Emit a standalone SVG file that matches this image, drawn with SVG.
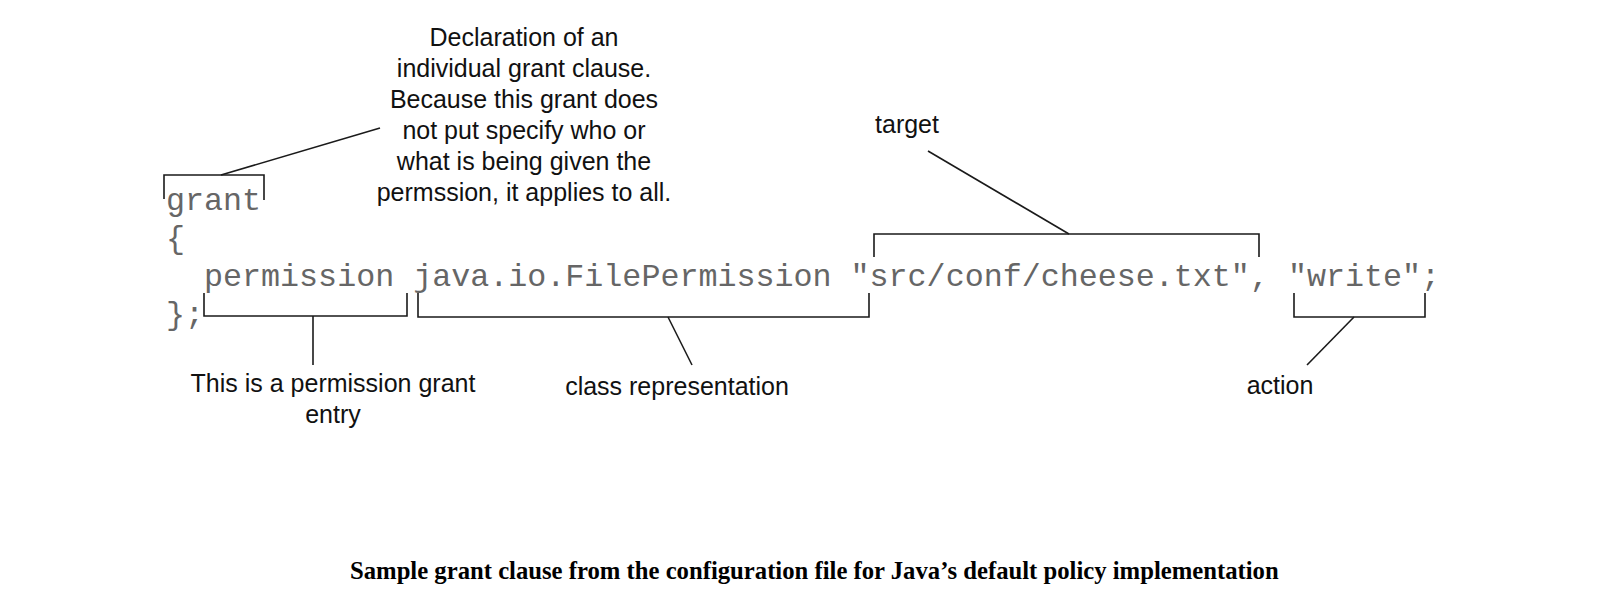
<svg xmlns="http://www.w3.org/2000/svg" width="1608" height="594" viewBox="0 0 1608 594">
<style>
.code{font-family:"Liberation Mono","Courier New",monospace;font-size:31.7px;fill:#666;white-space:pre}
.lbl{font-family:"Liberation Sans",Arial,sans-serif;font-size:25px;fill:#111;text-anchor:middle}
.cap{font-family:"Liberation Serif","Times New Roman",serif;font-size:24.7px;font-weight:bold;fill:#000}
.br{fill:none;stroke:#1a1a1a;stroke-width:1.6}
</style>
<rect width="1608" height="594" fill="#fff"/>
<g id="code">
<text class="code" x="166" y="210">grant</text>
<text class="code" x="166" y="248">{</text>
<text class="code" x="166" y="286" xml:space="preserve">  permission java.io.FilePermission "src/conf/cheese.txt", "write";</text>
<text class="code" x="166" y="324">};</text>
</g>
<g id="declaration-note">
<text class="lbl" x="524" y="46">Declaration of an</text>
<text class="lbl" x="524" y="77">individual grant clause.</text>
<text class="lbl" x="524" y="108">Because this grant does</text>
<text class="lbl" x="524" y="139">not put specify who or</text>
<text class="lbl" x="524" y="170">what is being given the</text>
<text class="lbl" x="524" y="201">permssion, it applies to all.</text>
</g>
<g id="permission-note">
<text class="lbl" x="333" y="392">This is a permission grant</text>
<text class="lbl" x="333" y="423">entry</text>
</g>
<g id="class-note">
<text class="lbl" x="677" y="395">class representation</text>
</g>
<g id="target-note">
<text class="lbl" x="907" y="133">target</text>
</g>
<g id="action-note">
<text class="lbl" x="1280" y="394">action</text>
</g>
<g id="connectors">
<path class="br" d="M164,199 V175 H264 V200"/>
<path class="br" d="M221,175 L380,128"/>
<path class="br" d="M204,293 V316 H407 V293"/>
<path class="br" d="M313,316 V365"/>
<path class="br" d="M418,293 V317 H869 V293"/>
<path class="br" d="M668,317 L692,365"/>
<path class="br" d="M874,257 V234 H1259 V257"/>
<path class="br" d="M1069,234 L928,151"/>
<path class="br" d="M1294,293 V317 H1425 V293"/>
<path class="br" d="M1354,317 L1307,365"/>
</g>
<g id="caption">
<text class="cap" x="350" y="579">Sample grant clause from the configuration file for Java’s default policy implementation</text>
</g>
</svg>
